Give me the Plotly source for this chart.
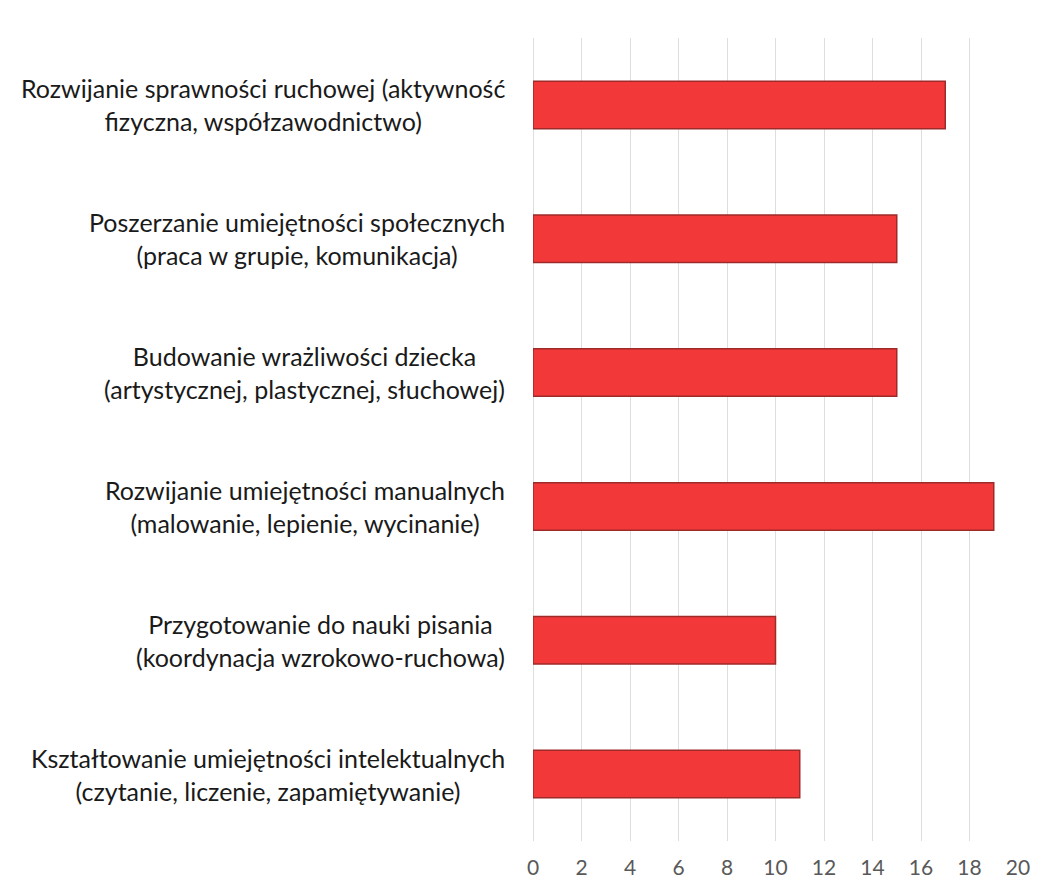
import plotly.graph_objects as go

categories = [
    "Rozwijanie sprawności ruchowej (aktywność<br>fizyczna, współzawodnictwo)",
    "Poszerzanie umiejętności społecznych<br>(praca w grupie, komunikacja)",
    "Budowanie wrażliwości dziecka<br>(artystycznej, plastycznej, słuchowej)",
    "Rozwijanie umiejętności manualnych<br>(malowanie, lepienie, wycinanie)",
    "Przygotowanie do nauki pisania<br>(koordynacja wzrokowo-ruchowa)",
    "Kształtowanie umiejętności intelektualnych<br>(czytanie, liczenie, zapamiętywanie)",
]
values = [17, 15, 15, 19, 10, 11]
x_ticks = [0, 2, 4, 6, 8, 10, 12, 14, 16, 18, 20]

font_family = "Lato, Open Sans, sans-serif"

fig = go.Figure()
fig.add_trace(go.Bar(
    x=values,
    y=categories,
    orientation="h",
    marker=dict(color="#f23838", line=dict(color="#9e2a2a", width=1.5)),
    width=0.355,
    hoverinfo="x+y",
))

annotations = []
for c in categories:
    annotations.append(dict(
        x=0, y=c, xref="paper", yref="y",
        text=c, showarrow=False, xanchor="right", yanchor="middle",
        align="center", xshift=-26,
        font=dict(family=font_family, size=25, color="#1a1a1a"),
    ))

fig.update_layout(
    width=1046, height=890,
    margin=dict(l=525, r=36, t=30, b=57),
    paper_bgcolor="white",
    plot_bgcolor="white",
    showlegend=False,
    annotations=annotations,
    xaxis=dict(
        range=[0, 20],
        tickvals=x_ticks,
        ticktext=[str(v) for v in x_ticks],
        showgrid=True, gridcolor="#dedede", gridwidth=1,
        zeroline=True, zerolinecolor="#dedede", zerolinewidth=1,
        showline=False,
        tickfont=dict(family=font_family, size=21, color="#595959"),
        ticks="", ticklabelstandoff=12,
        automargin=False,
        fixedrange=True,
    ),
    yaxis=dict(
        categoryorder="array",
        categoryarray=categories[::-1],
        showticklabels=False,
        showgrid=False, zeroline=False, showline=False,
        range=[-0.5, 5.5],
        automargin=False,
        fixedrange=True,
    ),
)

fig.write_html("out.html")
